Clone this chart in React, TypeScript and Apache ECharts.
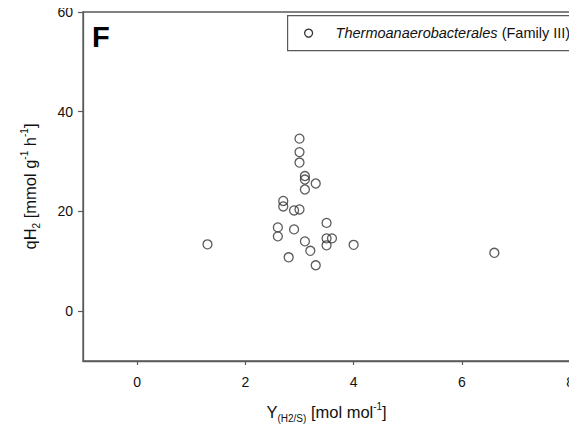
import React, { useEffect, useRef } from "react";
import * as echarts from "echarts";

// Hydrogen yield vs. specific production rate, Thermoanaerobacterales (Family III)
const yieldH2S: number[] = [
  3.0, 3.0, 3.0, 3.1, 3.1, 3.3, 3.1, 2.7, 2.7, 2.9, 3.0, 3.5, 2.6,
  2.9, 2.6, 3.5, 3.6, 3.5, 4.0, 3.1, 3.2, 2.8, 3.3, 1.3, 6.6,
];
const qH2: number[] = [
  34.6, 31.9, 29.8, 27.1, 26.4, 25.6, 24.4, 22.1, 21.0, 20.2, 20.4, 17.7, 16.8,
  16.4, 15.0, 14.6, 14.6, 13.2, 13.3, 14.0, 12.1, 10.8, 9.2, 13.4, 11.7,
];
const xTicks: number[] = [0, 2, 4, 6, 8];
const yTicks: number[] = [0, 20, 40, 60];
const seriesName = "Thermoanaerobacterales (Family III)";
const panelLetter = "F";

const FONT = "'Liberation Sans', Arial, sans-serif";
const AXIS_COLOR = "#5a5a5a";
const TEXT_COLOR = "#111";

const nameRich = {
  sub: { fontSize: 10, verticalAlign: "bottom", lineHeight: 22, fontFamily: FONT, color: TEXT_COLOR },
  sup: { fontSize: 10, verticalAlign: "top", lineHeight: 22, fontFamily: FONT, color: TEXT_COLOR },
};

export default function App() {
  const ref = useRef<HTMLDivElement>(null);

  useEffect(() => {
    if (!ref.current) return;
    const chart = echarts.init(ref.current, null, { renderer: "svg" });
    const points = yieldH2S.map((x, i) => [x, qH2[i]]);

    chart.setOption({
      animation: false,
      backgroundColor: "#fff",
      textStyle: { fontFamily: FONT },
      grid: {
        left: 83,
        top: 12,
        right: 3,
        bottom: 72,
        show: true,
        borderColor: AXIS_COLOR,
        borderWidth: 1.3,
      },
      xAxis: {
        type: "value",
        min: -1,
        max: 8,
        splitLine: { show: false },
        axisLine: { show: true, onZero: false, lineStyle: { color: AXIS_COLOR, width: 1.3 } },
        axisTick: {
          show: true,
          customValues: xTicks,
          length: 4,
          lineStyle: { color: AXIS_COLOR, width: 1.2 },
        },
        axisLabel: {
          customValues: xTicks,
          margin: 14,
          fontSize: 14,
          color: TEXT_COLOR,
          fontFamily: FONT,
          hideOverlap: false,
          showMaxLabel: true,
        },
        name: "Y{sub|(H2/S)} [mol mol{sup|-1}]",
        nameLocation: "middle",
        nameGap: 40,
        nameTextStyle: {
          fontSize: 16.5,
          color: TEXT_COLOR,
          fontFamily: FONT,
          lineHeight: 22,
          rich: nameRich,
        },
      },
      yAxis: {
        type: "value",
        min: -10,
        max: 60,
        splitLine: { show: false },
        axisLine: { show: true, onZero: false, lineStyle: { color: AXIS_COLOR, width: 1.3 } },
        axisTick: {
          show: true,
          customValues: yTicks,
          length: 5,
          lineStyle: { color: AXIS_COLOR, width: 1.2 },
        },
        axisLabel: {
          customValues: yTicks,
          margin: 10,
          fontSize: 14,
          color: TEXT_COLOR,
          fontFamily: FONT,
          showMaxLabel: true,
        },
        name: "qH{sub|2} [mmol g{sup|-1} h{sup|-1}]",
        nameLocation: "middle",
        nameRotate: 90,
        nameGap: 42,
        nameTextStyle: {
          fontSize: 16.5,
          color: TEXT_COLOR,
          fontFamily: FONT,
          lineHeight: 22,
          rich: nameRich,
        },
      },
      graphic: [
        {
          type: "text",
          left: 92,
          top: 22,
          style: {
            text: panelLetter,
            font: `bold 29px ${FONT}`,
            fill: "#000",
          },
        },
        // legend box
        {
          type: "group",
          left: 287,
          top: 15,
          children: [
            {
              type: "rect",
              shape: { x: 0, y: 0, width: 285, height: 35 },
              style: { fill: "#fff", stroke: AXIS_COLOR, lineWidth: 1.2 },
            },
            {
              type: "circle",
              shape: { cx: 21, cy: 17.5, r: 4 },
              style: { fill: "none", stroke: "#333", lineWidth: 1.3 },
            },
            {
              type: "text",
              x: 48,
              y: 17.5,
              style: {
                text: "{i|Thermoanaerobacterales} (Family III)",
                verticalAlign: "middle",
                font: `14.5px ${FONT}`,
                fill: TEXT_COLOR,
                rich: {
                  i: { fontStyle: "italic", fontSize: 14.5, fontFamily: FONT, fill: TEXT_COLOR },
                },
              },
            },
          ],
        },
      ],
      series: [
        {
          name: seriesName,
          type: "scatter",
          data: points,
          symbol: "circle",
          symbolSize: 9,
          itemStyle: {
            color: "rgba(255,255,255,0)",
            borderColor: "#333",
            borderWidth: 1.3,
          },
          emphasis: { disabled: true },
        },
      ],
    });

    return () => chart.dispose();
  }, []);

  return <div ref={ref} style={{ width: 577, height: 433, margin: -8 }} />;
}
